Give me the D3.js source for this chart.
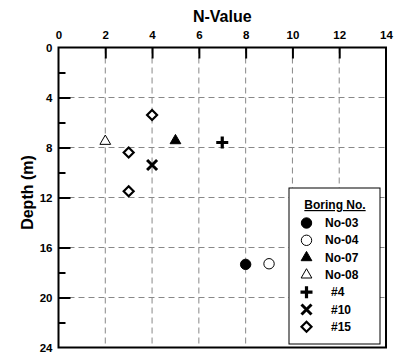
<!DOCTYPE html>
<html>
<head>
<meta charset="utf-8">
<script src="https://cdn.jsdelivr.net/npm/d3@7"></script>
<style>
  body { margin: 0; background: #fff; }
  text { font-family: Arial, "Liberation Sans", sans-serif; font-weight: bold; }
</style>
</head>
<body>
<svg id="chart"></svg>
<script>
"use strict";

let width = 398;
let height = 355;

// series data: [N-value, depth]
let no03 = [[8, 17.35]];
let no04 = [[9, 17.3]];
let no07 = [[5, 7.45]];
let no08 = [[2, 7.5]];
let b4 = [[7, 7.6]];
let b10 = [[4, 9.4]];
let b15 = [[4, 5.4], [3, 8.4], [3, 11.5]];

let seriesNames = ["No-03", "No-04", "No-07", "No-08", "#4", "#10", "#15"];
let xTicks = [0, 2, 4, 6, 8, 10, 12, 14];
let yTicks = [0, 4, 8, 12, 16, 20, 24];
let yMinor = [2, 6, 10, 14, 18, 22];

let margin = {top: 47.5, left: 58.5, right: 12, bottom: 7.5};

let svg = d3.select('#chart').attr('width', width).attr('height', height);

let x = d3.scaleLinear().domain([0, 14]).range([margin.left, width - margin.right]);
let y = d3.scaleLinear().domain([0, 24]).range([margin.top, height - margin.bottom]);

// grid
svg.append('g').selectAll('line.vg')
  .data(xTicks.slice(1, -1))
  .enter().append('line')
    .attr('x1', d => x(d)).attr('x2', d => x(d))
    .attr('y1', y(0)).attr('y2', y(24))
    .style('stroke', '#888').style('stroke-width', 1).style('stroke-dasharray', '6,4');
svg.append('g').selectAll('line.hg')
  .data(yTicks.slice(1, -1))
  .enter().append('line')
    .attr('x1', x(0)).attr('x2', x(14))
    .attr('y1', d => y(d)).attr('y2', d => y(d))
    .style('stroke', '#888').style('stroke-width', 1).style('stroke-dasharray', '6,4');

// axes (ticks drawn inward)
let xAxis = svg.append('g')
  .attr('transform', `translate(0,${y(0)})`)
  .call(d3.axisTop(x).tickValues(xTicks).tickSize(-11).tickPadding(9));
let yAxis = svg.append('g')
  .attr('transform', `translate(${x(0)},0)`)
  .call(d3.axisLeft(y).tickValues(yTicks).tickSize(-12).tickPadding(6));
svg.append('g')
  .attr('transform', `translate(${x(0)},0)`)
  .call(d3.axisLeft(y).tickValues(yMinor).tickSize(-7).tickFormat(''));

[xAxis, yAxis].forEach(g => {
  g.select('.domain').remove();
  g.selectAll('.tick text').style('font-size', '11.5px').style('fill', '#000')
    .style('font-family', 'Arial, "Liberation Sans", sans-serif').style('font-weight', 'bold');
});
svg.selectAll('.domain').remove();
svg.selectAll('.tick line').style('stroke', '#000').style('stroke-width', 2);
svg.selectAll('.tick').filter(d => d === 0 || d === 14 || d === 24).select('line').remove();

// frame
svg.append('rect')
  .attr('x', x(0)).attr('y', y(0))
  .attr('width', x(14) - x(0)).attr('height', y(24) - y(0))
  .style('fill', 'none').style('stroke', '#000').style('stroke-width', 2);

// titles
svg.append('text')
  .attr('x', (x(0) + x(14)) / 2).attr('y', 22)
  .attr('text-anchor', 'middle')
  .style('font-size', '16px')
  .text('N-Value');
svg.append('text')
  .attr('transform', `translate(33,${(y(0) + y(24)) / 2 - 5})rotate(-90)`)
  .attr('text-anchor', 'middle')
  .style('font-size', '16px')
  .text('Depth (m)');

// symbols
let sym = {
  "No-03": {type: d3.symbolCircle, size: 85, fill: '#000'},
  "No-04": {type: d3.symbolCircle, size: 85, fill: '#fff'},
  "No-07": {type: d3.symbolTriangle, size: 50, fill: '#000'},
  "No-08": {type: d3.symbolTriangle, size: 50, fill: '#fff'}
};

function drawSymbol(g, name, cx, cy) {
  if (name === "#4") {
    g.append('path').attr('d', `M${cx - 6},${cy}H${cx + 6}M${cx},${cy - 6}V${cy + 6}`)
      .style('stroke', '#000').style('stroke-width', 3.2).style('fill', 'none');
  } else if (name === "#10") {
    g.append('path').attr('d', `M${cx - 5},${cy - 5}L${cx + 5},${cy + 5}M${cx - 5},${cy + 5}L${cx + 5},${cy - 5}`)
      .style('stroke', '#000').style('stroke-width', 3).style('fill', 'none');
  } else if (name === "#15") {
    g.append('path').attr('d', `M${cx},${cy - 5}L${cx + 5},${cy}L${cx},${cy + 5}L${cx - 5},${cy}Z`)
      .style('stroke', '#000').style('stroke-width', 2.2).style('fill', '#fff');
  } else {
    let s = sym[name];
    g.append('path')
      .attr('d', d3.symbol().type(s.type).size(s.size)())
      .attr('transform', `translate(${cx},${cy})`)
      .style('fill', s.fill).style('stroke', '#000').style('stroke-width', 1);
  }
}

let series = [no03, no04, no07, no08, b4, b10, b15];
let pts = svg.append('g');
series.forEach((vals, i) => {
  vals.forEach(v => drawSymbol(pts, seriesNames[i], x(v[0]), y(v[1])));
});

// legend
let lg = svg.append('g');
lg.append('rect')
  .attr('x', 289).attr('y', 188).attr('width', 91).attr('height', 156)
  .style('fill', '#fff').style('stroke', '#000').style('stroke-width', 1);
lg.append('text')
  .attr('x', 335).attr('y', 209)
  .attr('text-anchor', 'middle')
  .style('font-size', '12px')
  .style('text-decoration', 'underline')
  .text('Boring No.');
seriesNames.forEach((name, i) => {
  let cy = 223 + i * 17.3;
  drawSymbol(lg, name, 306.5, cy);
  lg.append('text')
    .attr('x', name.startsWith('#') ? 331 : 325)
    .attr('y', cy + 4)
    .style('font-size', '12px')
    .text(name);
});
</script>
</body>
</html>
